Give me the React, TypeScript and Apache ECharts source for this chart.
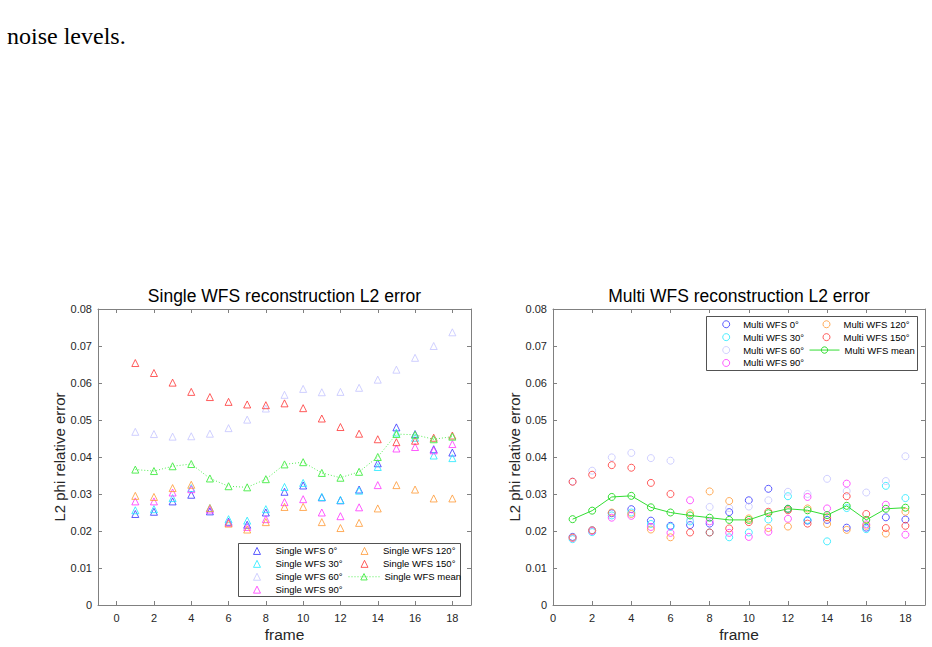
import React, { useEffect, useRef } from "react";
import * as echarts from "echarts";

const frames = [1, 2, 3, 4, 5, 6, 7, 8, 9, 10, 11, 12, 13, 14, 15, 16, 17, 18];
const xTicks = [0, 2, 4, 6, 8, 10, 12, 14, 16, 18];
const angleLabels = ["0°", "30°", "60°", "90°", "120°", "150°"];

// Single WFS reconstruction L2 error
const single0 = [0.0246, 0.0252, 0.0280, 0.0298, 0.0253, 0.0225, 0.0217, 0.0250, 0.0306, 0.0323, 0.0291, 0.0283, 0.0312, 0.0383, 0.0480, 0.0462, 0.0421, 0.0412];
const single30 = [0.0256, 0.0259, 0.0289, 0.0316, 0.0262, 0.0232, 0.0228, 0.0259, 0.0319, 0.0330, 0.0292, 0.0284, 0.0309, 0.0373, 0.0466, 0.0452, 0.0404, 0.0397];
const single60 = [0.0468, 0.0462, 0.0455, 0.0456, 0.0463, 0.0478, 0.0501, 0.0531, 0.0568, 0.0584, 0.0575, 0.0576, 0.0587, 0.0609, 0.0636, 0.0668, 0.0700, 0.0737];
const single90 = [0.0280, 0.0280, 0.0304, 0.0313, 0.0258, 0.0222, 0.0211, 0.0232, 0.0278, 0.0286, 0.0250, 0.0240, 0.0264, 0.0324, 0.0423, 0.0427, 0.0418, 0.0435];
const single120 = [0.0295, 0.0292, 0.0316, 0.0325, 0.0262, 0.0220, 0.0204, 0.0224, 0.0265, 0.0265, 0.0224, 0.0208, 0.0222, 0.0261, 0.0324, 0.0312, 0.0288, 0.0288];
const single150 = [0.0654, 0.0627, 0.0601, 0.0576, 0.0562, 0.0549, 0.0542, 0.0540, 0.0545, 0.0532, 0.0504, 0.0481, 0.0463, 0.0448, 0.0440, 0.0444, 0.0452, 0.0458];
const singleMean = [0.0366, 0.0362, 0.0375, 0.0381, 0.0342, 0.0321, 0.0318, 0.0340, 0.0380, 0.0386, 0.0357, 0.0344, 0.0360, 0.0400, 0.0462, 0.0460, 0.0448, 0.0455];

// Multi WFS reconstruction L2 error
const multi0 = [0.0184, 0.0202, 0.0248, 0.0259, 0.0228, 0.0214, 0.0216, 0.0220, 0.0251, 0.0283, 0.0314, 0.0260, 0.0228, 0.0230, 0.0209, 0.0209, 0.0237, 0.0231];
const multi30 = [0.0178, 0.0197, 0.0242, 0.0250, 0.0219, 0.0211, 0.0226, 0.0196, 0.0183, 0.0196, 0.0231, 0.0294, 0.0230, 0.0172, 0.0262, 0.0205, 0.0322, 0.0289];
const multi60 = [0.0334, 0.0363, 0.0399, 0.0411, 0.0397, 0.0390, 0.0230, 0.0265, 0.0262, 0.0266, 0.0283, 0.0306, 0.0300, 0.0341, 0.0308, 0.0304, 0.0335, 0.0402];
const multi90 = [0.0181, 0.0200, 0.0236, 0.0241, 0.0211, 0.0195, 0.0283, 0.0226, 0.0195, 0.0184, 0.0198, 0.0233, 0.0292, 0.0261, 0.0328, 0.0218, 0.0271, 0.0190];
const multi120 = [0.0182, 0.0202, 0.0250, 0.0246, 0.0204, 0.0183, 0.0248, 0.0307, 0.0281, 0.0234, 0.0208, 0.0212, 0.0261, 0.0219, 0.0203, 0.0214, 0.0193, 0.0252];
const multi150 = [0.0333, 0.0352, 0.0378, 0.0371, 0.0330, 0.0300, 0.0196, 0.0196, 0.0207, 0.0224, 0.0252, 0.0256, 0.0220, 0.0237, 0.0294, 0.0246, 0.0208, 0.0214];
const multiMean = [0.0232, 0.0255, 0.0292, 0.0295, 0.0264, 0.0250, 0.0242, 0.0236, 0.0230, 0.0230, 0.0248, 0.0260, 0.0256, 0.0243, 0.0268, 0.0230, 0.0260, 0.0263];

const singleSets = [single0, single30, single60, single90, single120, single150];
const multiSets = [multi0, multi30, multi60, multi90, multi120, multi150];
const seriesColors = ["#3333ff", "#1ee8ff", "#c4c4ff", "#ff33ff", "#ff9933", "#ff3333"];
const singleMeanColor = "#55ee55";
const multiMeanColor = "#33dd33";

const SANS = "'Liberation Sans', Arial, Helvetica, sans-serif";
const AXIS_COLOR = "#808080";
const LABEL_COLOR = "#262626";

function makeAxes(gridIndex: number, xMin: number, xMax: number) {
  const tickStyle = { show: true, inside: true, length: 4, lineStyle: { color: AXIS_COLOR, width: 1 } };
  const lineStyle = { show: true, onZero: false, lineStyle: { color: AXIS_COLOR, width: 1 } };
  const xBottom = {
    type: "value", gridIndex, min: xMin, max: xMax, position: "bottom",
    axisLine: lineStyle,
    axisTick: { ...tickStyle, customValues: xTicks },
    axisLabel: { show: true, customValues: xTicks, color: LABEL_COLOR, fontSize: 11, fontFamily: SANS, margin: 7 },
    splitLine: { show: false },
    name: "frame", nameLocation: "middle", nameGap: 21,
    nameTextStyle: { color: LABEL_COLOR, fontSize: 15.5, fontFamily: SANS },
  };
  const xTop = {
    type: "value", gridIndex, min: xMin, max: xMax, position: "top",
    axisLine: lineStyle,
    axisTick: { ...tickStyle, customValues: xTicks },
    axisLabel: { show: false },
    splitLine: { show: false },
  };
  const yLeft = {
    type: "value", gridIndex, min: 0, max: 0.08, interval: 0.01, position: "left",
    axisLine: lineStyle,
    axisTick: tickStyle,
    axisLabel: {
      show: true, color: LABEL_COLOR, fontSize: 11, fontFamily: SANS, margin: 6,
      formatter: (v: number) => (v === 0 ? "0" : v.toFixed(2)),
    },
    splitLine: { show: false },
    name: "L2 phi relative error", nameLocation: "middle", nameGap: 21,
    nameTextStyle: { color: LABEL_COLOR, fontSize: 15, fontFamily: SANS },
  };
  const yRight = {
    type: "value", gridIndex, min: 0, max: 0.08, interval: 0.01, position: "right",
    axisLine: lineStyle,
    axisTick: tickStyle,
    axisLabel: { show: false },
    splitLine: { show: false },
  };
  return { x: [xBottom, xTop], y: [yLeft, yRight] };
}

function buildSeries(prefix: string, sets: number[][], mean: number[], meanColor: string, symbol: string, axisIndex: number, dotted: boolean) {
  const list: any[] = sets.map((vals, k) => ({
    type: "scatter",
    name: `${prefix} ${angleLabels[k]}`,
    xAxisIndex: axisIndex,
    yAxisIndex: axisIndex,
    data: frames.map((f, i) => [f, vals[i]]),
    symbol,
    symbolSize: 7,
    itemStyle: { color: "transparent", borderColor: seriesColors[k], borderWidth: 1 },
    emphasis: { disabled: true },
    silent: true,
  }));
  list.push({
    type: "line",
    name: `${prefix} mean`,
    xAxisIndex: axisIndex,
    yAxisIndex: axisIndex,
    data: frames.map((f, i) => [f, mean[i]]),
    symbol,
    symbolSize: 7,
    showSymbol: true,
    itemStyle: { color: "transparent", borderColor: meanColor, borderWidth: 1 },
    lineStyle: { color: meanColor, width: 1, type: dotted ? [1, 2] : "solid" },
    emphasis: { disabled: true },
    silent: true,
  });
  return list;
}

// a legend column; iconW = width of icon box, textPad shifts the label to the right
function legendCol(names: string[], left: number, top: number, iconW: number, iconH: number, textPad: number) {
  return {
    show: true,
    orient: "vertical",
    left, top,
    padding: 0,
    itemGap: 0,
    itemWidth: iconW,
    itemHeight: iconH,
    symbolKeepAspect: true,
    selectedMode: false,
    data: names,
    itemStyle: { borderWidth: 1 },
    lineStyle: { width: 1 },
    textStyle: { color: "#000", fontSize: 9.5, fontFamily: SANS, lineHeight: 12.9, padding: [0, 0, 0, textPad] },
  };
}

export default function App() {
  const ref = useRef<HTMLDivElement>(null);

  useEffect(() => {
    if (!ref.current) return;
    const chart = echarts.init(ref.current, undefined, { renderer: "svg" });
    const leftAxes = makeAxes(0, -1, 19);
    const rightAxes = makeAxes(1, 0, 19);

    const singleNames = angleLabels.map((a) => `Single WFS ${a}`);
    const multiNames = angleLabels.map((a) => `Multi WFS ${a}`);
    const rowH = 12.9;
    const lTop = 544.5;
    const rTop = 317.8;

    const option: any = {
      animation: false,
      backgroundColor: "#ffffff",
      grid: [
        { left: 98, top: 309, width: 373, height: 296, containLabel: false },
        { left: 553, top: 309, width: 372, height: 296, containLabel: false },
      ],
      xAxis: [leftAxes.x[0], leftAxes.x[1], rightAxes.x[0], rightAxes.x[1]],
      yAxis: [leftAxes.y[0], leftAxes.y[1], rightAxes.y[0], rightAxes.y[1]],
      legend: [
        legendCol(singleNames.slice(0, 4), 253, lTop, 7, 7, 10),
        legendCol(singleNames.slice(4), 360.5, lTop, 7, 7, 10),
        legendCol(["Single WFS mean"], 348, lTop + 2 * rowH, 31, 8, 0),
        legendCol(multiNames.slice(0, 4), 722.2, rTop, 7, 7, 8.5),
        legendCol(multiNames.slice(4), 822.5, rTop, 7, 7, 8.5),
        legendCol(["Multi WFS mean"], 809, rTop + 2 * rowH, 30, 8, 0),
      ],
      graphic: [
        {
          type: "text", x: 7, y: 24, z: 10,
          style: { text: "noise levels.", fill: "#000", fontSize: 24, fontFamily: "'Liberation Serif', 'Times New Roman', serif", textVerticalAlign: "alphabetic", verticalAlign: "alphabetic" },
        },
        {
          type: "text", x: 284.5, y: 296, z: 10,
          style: { text: "Single WFS reconstruction L2 error", fill: "#000", fontSize: 17.5, fontFamily: SANS, textAlign: "center", align: "center", textVerticalAlign: "middle", verticalAlign: "middle" },
        },
        {
          type: "text", x: 739, y: 296, z: 10,
          style: { text: "Multi WFS reconstruction L2 error", fill: "#000", fontSize: 17.5, fontFamily: SANS, textAlign: "center", align: "center", textVerticalAlign: "middle", verticalAlign: "middle" },
        },
        {
          type: "rect", z: 3,
          shape: { x: 238.5, y: 543.5, width: 222, height: 53 },
          style: { fill: "#ffffff", stroke: "#262626", lineWidth: 0.8 },
        },
        {
          type: "rect", z: 3,
          shape: { x: 706.5, y: 316.5, width: 211, height: 54 },
          style: { fill: "#ffffff", stroke: "#262626", lineWidth: 0.8 },
        },
      ],
      series: [
        ...buildSeries("Single WFS", singleSets, singleMean, singleMeanColor, "triangle", 0, true),
        ...buildSeries("Multi WFS", multiSets, multiMean, multiMeanColor, "circle", 2, false),
      ],
    };
    chart.setOption(option);
    return () => chart.dispose();
  }, []);

  return (
    <div
      ref={ref}
      style={{ position: "fixed", left: 0, top: 0, width: 932, height: 647, background: "#fff" }}
    />
  );
}
